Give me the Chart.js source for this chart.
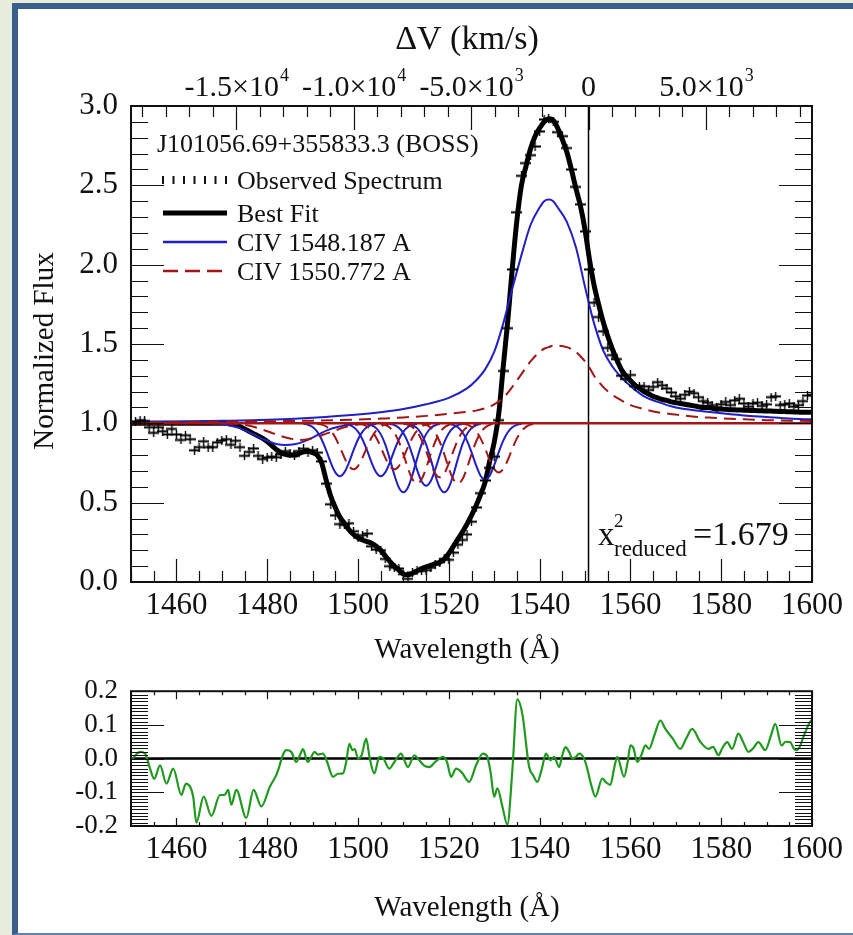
<!DOCTYPE html>
<html lang="en">
<head>
<meta charset="UTF-8">
<title>CIV BAL fit - J101056.69+355833.3</title>
<script src="https://cdn.jsdelivr.net/npm/chart.js"></script>
<style>
  html, body { margin: 0; padding: 0; width: 853px; height: 935px; overflow: hidden; background: #e6eedb; }
  .panel { position: absolute; left: 12px; top: 3px; width: 900px; height: 932px; box-sizing: border-box;
           background: #fff; border-left: 6px solid #3b5e8d; border-top: 6px solid #3b5e8d; border-bottom: 2px solid #5b85b5; }
  canvas { position: absolute; left: 0; }
  #spec { top: 0; }
  #resid { top: 670px; }
</style>
</head>
<body>
<div class="panel"></div>
<canvas id="spec" width="853" height="670"></canvas>
<canvas id="resid" width="853" height="265"></canvas>
<script>
const FONT = '"Liberation Serif", "Times New Roman", serif';
const REST_WAVE = 1550.772;        // CIV red line, zero of the velocity axis
const C_KMS = 299792.458;
const WAVE_MIN = 1450, WAVE_MAX = 1600;
const CONTINUUM = 1.0;
const TITLE_X = 467;

// tick labels
const waveLabels = [1460, 1480, 1500, 1520, 1540, 1560, 1580, 1600];
const velLabels = [-15000, -10000, -5000, 0, 5000];

// best fit and observed flux, 1 A sampling starting at WAVE_MIN
const fitFlux = [
  1.00, 1.00, 1.00, 1.00, 1.00, 1.00, 1.00, 1.00, 1.00, 1.00,
  1.00, 1.00, 1.00, 1.00, 1.00, 1.00, 1.00, 1.00, 1.00, 1.00,
  1.00, 1.00, 0.995, 0.99, 0.98, 0.965, 0.95, 0.935, 0.92, 0.905,
  0.885, 0.86, 0.835, 0.815, 0.805, 0.80, 0.80, 0.81, 0.82, 0.825,
  0.815, 0.80, 0.75, 0.64, 0.54, 0.47, 0.41, 0.37, 0.33, 0.30,
  0.28, 0.265, 0.255, 0.245, 0.225, 0.20, 0.165, 0.13, 0.10, 0.075,
  0.05, 0.045, 0.055, 0.07, 0.085, 0.095, 0.105, 0.115, 0.125, 0.145,
  0.18, 0.225, 0.27, 0.315, 0.365, 0.42, 0.48, 0.55, 0.63, 0.76,
  0.88, 1.06, 1.36, 1.65, 1.98, 2.28, 2.50, 2.62, 2.73, 2.81,
  2.86, 2.90, 2.92, 2.91, 2.86, 2.79, 2.71, 2.60, 2.48, 2.37,
  2.22, 2.03, 1.87, 1.75, 1.64, 1.55, 1.47, 1.40, 1.34, 1.30,
  1.27, 1.24, 1.22, 1.20, 1.185, 1.17, 1.16, 1.15, 1.145, 1.135,
  1.13, 1.125, 1.12, 1.115, 1.11, 1.105, 1.10, 1.10, 1.095, 1.09,
  1.09, 1.088, 1.086, 1.085, 1.084, 1.083, 1.082, 1.081, 1.080, 1.079,
  1.078, 1.077, 1.076, 1.075, 1.074, 1.073, 1.072, 1.071, 1.070, 1.070,
  1.070
];
const obsFlux = [
  1.00, 1.01, 1.02, 1.015, 0.975, 0.94, 0.975, 0.95, 0.93, 0.965,
  0.93, 0.895, 0.925, 0.90, 0.83, 0.85, 0.887, 0.85, 0.85, 0.88,
  0.892, 0.90, 0.865, 0.89, 0.85, 0.795, 0.82, 0.842, 0.795, 0.775,
  0.785, 0.79, 0.786, 0.805, 0.825, 0.81, 0.795, 0.825, 0.84, 0.815,
  0.83, 0.815, 0.76, 0.62, 0.49, 0.42, 0.365, 0.36, 0.37, 0.32,
  0.28, 0.295, 0.305, 0.225, 0.205, 0.20, 0.145, 0.10, 0.09, 0.085,
  0.05, 0.02, 0.06, 0.07, 0.07, 0.075, 0.09, 0.11, 0.125, 0.145,
  0.14, 0.185, 0.235, 0.265, 0.30, 0.38, 0.47, 0.56, 0.64, 0.72,
  0.79, 1.02, 1.33, 1.60, 1.97, 2.33, 2.56, 2.64, 2.69, 2.745,
  2.84, 2.915, 2.92, 2.90, 2.835, 2.81, 2.735, 2.60, 2.49, 2.38,
  2.21, 1.97, 1.76, 1.67, 1.58, 1.475, 1.43, 1.405, 1.30, 1.28,
  1.305, 1.235, 1.235, 1.233, 1.21, 1.23, 1.26, 1.24, 1.22, 1.195,
  1.17, 1.155, 1.18, 1.20, 1.19, 1.165, 1.14, 1.13, 1.115, 1.10,
  1.12, 1.135, 1.115, 1.145, 1.155, 1.125, 1.105, 1.125, 1.13, 1.11,
  1.12, 1.165, 1.17, 1.115, 1.12, 1.125, 1.105, 1.115, 1.14, 1.175,
  1.18
];

// broad CIV emission components
const emisWave = [1450, 1460, 1470, 1480, 1490, 1500, 1505, 1510, 1515, 1520,
  1524, 1526, 1528, 1530, 1532, 1534, 1536, 1538, 1540, 1541,
  1542, 1543, 1544, 1546, 1548, 1550, 1551, 1552, 1554, 1556,
  1558, 1560, 1563, 1566, 1570, 1575, 1578, 1585, 1590, 1595, 1600];
const blueEmis = [1.01, 1.012, 1.016, 1.022, 1.035, 1.055, 1.07, 1.09, 1.12, 1.16,
  1.22, 1.27, 1.34, 1.45, 1.63, 1.85, 2.06, 2.25, 2.36, 2.40,
  2.41, 2.40, 2.36, 2.27, 2.11, 1.86, 1.74, 1.63, 1.46, 1.36,
  1.29, 1.235, 1.17, 1.135, 1.10, 1.08, 1.07, 1.05, 1.04, 1.03, 1.025];
const redEmis = [1.005, 1.007, 1.01, 1.013, 1.017, 1.024, 1.03, 1.037, 1.047, 1.06,
  1.072, 1.08, 1.095, 1.12, 1.16, 1.23, 1.31, 1.39, 1.45, 1.47,
  1.48, 1.49, 1.49, 1.48, 1.45, 1.39, 1.35, 1.30, 1.23, 1.18,
  1.145, 1.115, 1.09, 1.07, 1.055, 1.04, 1.035, 1.025, 1.02, 1.017, 1.015];

// absorption troughs: first wavelength, sampling step, flux
const blueTroughStart = [1468, 1488, 1497, 1502, 1507, 1511, 1520];
const blueTroughStep = [2, 1, 1, 1, 1, 1, 1];
const blueTroughs = [
  [1.000, 0.995, 0.985, 0.970, 0.945, 0.915, 0.890, 0.870, 0.863, 0.868, 0.885, 0.910, 0.940, 0.965, 0.980, 0.993, 1.000],
  [0.997, 0.991, 0.977, 0.948, 0.898, 0.829, 0.752, 0.691, 0.667, 0.691, 0.752, 0.829, 0.898, 0.948, 0.977, 0.991, 0.997],
  [0.997, 0.991, 0.977, 0.948, 0.898, 0.829, 0.752, 0.691, 0.667, 0.691, 0.752, 0.829, 0.898, 0.948, 0.977, 0.991, 0.997],
  [0.996, 0.988, 0.970, 0.932, 0.867, 0.776, 0.676, 0.596, 0.565, 0.596, 0.676, 0.776, 0.867, 0.932, 0.970, 0.988, 0.996],
  [0.996, 0.989, 0.972, 0.938, 0.880, 0.798, 0.708, 0.635, 0.607, 0.635, 0.708, 0.798, 0.880, 0.938, 0.972, 0.989, 0.996],
  [0.996, 0.988, 0.970, 0.932, 0.867, 0.776, 0.676, 0.596, 0.565, 0.596, 0.676, 0.776, 0.867, 0.932, 0.970, 0.988, 0.996],
  [0.997, 0.990, 0.975, 0.944, 0.891, 0.818, 0.736, 0.670, 0.645, 0.670, 0.736, 0.818, 0.891, 0.944, 0.975, 0.990, 0.997]
];
const redTroughStart = [1471, 1491, 1500, 1505, 1510, 1514, 1523];
const redTroughStep = [2, 1, 1, 1, 1, 1, 1];
const redTroughs = [
  [1.000, 0.997, 0.990, 0.978, 0.960, 0.940, 0.920, 0.905, 0.895, 0.900, 0.915, 0.935, 0.955, 0.975, 0.988, 0.996, 1.000],
  [0.997, 0.992, 0.980, 0.954, 0.911, 0.851, 0.784, 0.731, 0.710, 0.731, 0.784, 0.851, 0.911, 0.954, 0.980, 0.992, 0.997],
  [0.997, 0.992, 0.980, 0.954, 0.911, 0.851, 0.784, 0.731, 0.710, 0.731, 0.784, 0.851, 0.911, 0.954, 0.980, 0.992, 0.997],
  [0.997, 0.990, 0.973, 0.940, 0.884, 0.805, 0.717, 0.647, 0.620, 0.647, 0.717, 0.805, 0.884, 0.940, 0.973, 0.990, 0.997],
  [0.997, 0.991, 0.976, 0.947, 0.896, 0.825, 0.747, 0.684, 0.660, 0.684, 0.747, 0.825, 0.896, 0.947, 0.976, 0.991, 0.997],
  [0.997, 0.990, 0.973, 0.940, 0.884, 0.805, 0.717, 0.647, 0.620, 0.647, 0.717, 0.805, 0.884, 0.940, 0.973, 0.990, 0.997],
  [0.997, 0.992, 0.978, 0.951, 0.905, 0.841, 0.769, 0.712, 0.690, 0.712, 0.769, 0.841, 0.905, 0.951, 0.978, 0.992, 0.997]
];

// fit residuals
const residWave = [1450.3, 1452.0, 1453.1, 1454.2, 1455.1, 1456.4, 1457.8, 1459.3, 1461.1, 1462.1,
  1463.7, 1464.4, 1466.0, 1467.7, 1469.6, 1470.6, 1471.4, 1472.1, 1473.2, 1475.4,
  1477.0, 1478.7, 1480.6, 1482.0, 1484.2, 1485.3, 1486.4, 1487.2, 1487.9, 1488.9,
  1489.7, 1490.4, 1491.2, 1492.3, 1493.2, 1494.5, 1495.6, 1496.7, 1497.4, 1498.1,
  1498.8, 1499.3, 1500.0, 1500.8, 1501.8, 1502.6, 1503.6, 1504.7, 1505.6, 1506.9,
  1508.0, 1509.5, 1510.2, 1511.0, 1512.4, 1513.5, 1514.5, 1515.7, 1517.0, 1518.7,
  1519.6, 1520.5, 1521.6, 1522.8, 1524.5, 1526.0, 1527.5, 1528.4, 1529.2, 1530.0,
  1530.7, 1531.8, 1532.9, 1534.0, 1535.1, 1536.2, 1537.7, 1538.6, 1539.5, 1540.5,
  1541.4, 1542.4, 1543.2, 1544.3, 1545.0, 1545.7, 1546.5, 1547.2, 1548.0, 1548.7,
  1549.8, 1550.5, 1551.4, 1552.3, 1553.8, 1554.6, 1555.6, 1556.4, 1557.1, 1558.6,
  1559.4, 1560.0, 1560.7, 1561.5, 1562.4, 1563.3, 1564.1, 1565.3, 1566.6, 1567.7,
  1569.3, 1571.0, 1572.3, 1573.6, 1575.4, 1577.2, 1578.2, 1579.4, 1580.2, 1581.3,
  1582.4, 1583.8, 1584.8, 1586.0, 1587.0, 1588.2, 1589.7, 1591.0, 1591.9, 1593.3,
  1594.2, 1595.2, 1596.0, 1596.6, 1597.3, 1598.1, 1599.5, 1600.0];
const residValue = [0.0, 0.02, 0.015, -0.03, -0.06, -0.02, -0.074, -0.03, -0.108, -0.074,
  -0.113, -0.19, -0.113, -0.17, -0.108, -0.108, -0.093, -0.137, -0.093, -0.176,
  -0.093, -0.142, -0.083, -0.049, 0.025, 0.02, -0.01, 0.01, 0.028, -0.01,
  0.005, 0.02, 0.012, 0.015, -0.01, -0.054, -0.045, -0.044, -0.01, 0.044,
  0.025, 0.028, 0.0, 0.01, 0.059, 0.0, -0.044, 0.005, 0.0, -0.03,
  -0.01, 0.015, -0.005, -0.025, 0.01, -0.005, -0.02, -0.025, -0.01, 0.005,
  -0.01, -0.054, -0.03, -0.04, -0.069, -0.02, 0.015, 0.008, -0.04, -0.113,
  -0.088, -0.142, -0.196, -0.034, 0.176, 0.132, -0.025, -0.05, -0.069, -0.03,
  0.015, -0.005, 0.005, -0.025, 0.01, 0.034, 0.02, 0.0, 0.005, 0.015,
  0.0, -0.03, -0.08, -0.113, -0.059, -0.07, -0.078, -0.03, 0.005, -0.054,
  -0.01, 0.039, 0.03, -0.01, 0.01, 0.039, 0.029, 0.07, 0.113, 0.088,
  0.06, 0.029, 0.06, 0.088, 0.05, 0.029, 0.035, 0.01, 0.03, 0.049,
  0.029, 0.074, 0.05, 0.02, 0.03, 0.049, 0.025, 0.07, 0.103, 0.039,
  0.05, 0.049, 0.03, 0.025, 0.035, 0.064, 0.108, 0.115];

const BLUE = '#1f1fc4';
const RED = '#a11616';
const GREEN = '#1f9a1f';

// ---- helpers ----
const grid1A = arr => arr.map((y, i) => ({ x: WAVE_MIN + i, y }));
const pairs = (xs, ys) => xs.map((x, i) => ({ x, y: ys[i] }));
const stepped = (start, step, ys) => ys.map((y, i) => ({ x: start + i * step, y }));

function lineSet(data, color, width, dash) {
  return {
    data, borderColor: color, borderWidth: width, borderDash: dash || [],
    pointRadius: 0, showLine: true, fill: false, cubicInterpolationMode: 'monotone',
    xAxisID: 'x', yAxisID: 'y'
  };
}

// "+" marker used for the observed pixels
const plus = document.createElement('canvas');
plus.width = 11; plus.height = 9;
(function () {
  const p = plus.getContext('2d');
  p.fillStyle = '#000';
  p.fillRect(0, 3.5, 11, 2);
  p.fillRect(4.8, 0, 1.4, 9);
})();

// inward ticks on all four sides plus the frame
function frameTicks(marks) {
  return {
    id: 'frameTicks',
    afterDatasetsDraw(chart) {
      const { ctx, chartArea: a } = chart;
      ctx.save();
      ctx.strokeStyle = '#111';
      ctx.lineWidth = 1.2;
      marks.forEach(m => {
        const s = chart.scales[m.scale];
        const n0 = Math.ceil(s.min / m.step - 1e-9), n1 = Math.floor(s.max / m.step + 1e-9);
        const every = Math.round(m.major / m.step);
        ctx.beginPath();
        for (let n = n0; n <= n1; n++) {
          const p = Math.round(s.getPixelForValue(n * m.step)) + 0.5;
          const len = (n % every === 0) ? m.long : m.short;
          m.sides.forEach(side => {
            if (side === 'bottom') { ctx.moveTo(p, a.bottom); ctx.lineTo(p, a.bottom - len); }
            if (side === 'top') { ctx.moveTo(p, a.top); ctx.lineTo(p, a.top + len); }
            if (side === 'left') { ctx.moveTo(a.left, p); ctx.lineTo(a.left + len, p); }
            if (side === 'right') { ctx.moveTo(a.right, p); ctx.lineTo(a.right - len, p); }
          });
        }
        ctx.stroke();
      });
      ctx.lineWidth = 2;
      ctx.strokeRect(a.left, a.top, a.right - a.left, a.bottom - a.top);
      ctx.restore();
    }
  };
}

function put(ctx, str, x, y, size, align, baseline) {
  ctx.font = size + 'px ' + FONT;
  ctx.textAlign = align || 'left';
  ctx.textBaseline = baseline || 'alphabetic';
  ctx.fillText(str, x, y);
}

function xAxis(h) {
  return {
    type: 'linear', min: WAVE_MIN, max: WAVE_MAX,
    grid: { display: false }, border: { display: false },
    ticks: { font: { family: FONT, size: 31 }, color: '#111', padding: -3, maxRotation: 0, autoSkip: false,
             callback: v => String(v) },
    afterBuildTicks: s => { s.ticks = waveLabels.map(v => ({ value: v })); },
    afterFit: s => { s.height = h; }
  };
}

// ---- spectrum panel ----
const vMin = C_KMS * (WAVE_MIN - REST_WAVE) / REST_WAVE;
const vMax = C_KMS * (WAVE_MAX - REST_WAVE) / REST_WAVE;

const specSets = [];
specSets.push({
  data: grid1A(obsFlux), showLine: false, pointStyle: plus, pointRadius: 5,
  borderColor: '#000', backgroundColor: '#000', xAxisID: 'x', yAxisID: 'y'
});
specSets.push(lineSet([{ x: WAVE_MIN, y: CONTINUUM }, { x: WAVE_MAX, y: CONTINUUM }], RED, 2.5));
specSets.push(lineSet(pairs(emisWave, redEmis), RED, 2, [12, 7]));
redTroughs.forEach((t, i) => specSets.push(lineSet(stepped(redTroughStart[i], redTroughStep[i], t), RED, 2, [12, 7])));
specSets.push(lineSet(pairs(emisWave, blueEmis), BLUE, 2));
blueTroughs.forEach((t, i) => specSets.push(lineSet(stepped(blueTroughStart[i], blueTroughStep[i], t), BLUE, 2)));
specSets.push(lineSet(grid1A(fitFlux), '#000', 5));
specSets.push(lineSet([{ x: REST_WAVE, y: 0 }, { x: REST_WAVE, y: 3 }], '#000', 1.5));

const specText = {
  id: 'specText',
  afterDraw(chart) {
    const ctx = chart.ctx, vs = chart.scales.v;
    ctx.save();
    ctx.fillStyle = '#111';
    put(ctx, '\u0394V (km/s)', TITLE_X, 40, 34, 'center', 'middle');
    put(ctx, 'Wavelength (\u00c5)', TITLE_X, 650, 29, 'center', 'middle');
    ctx.save();
    ctx.translate(45, 351);
    ctx.rotate(-Math.PI / 2);
    put(ctx, 'Normalized Flux', 0, 0, 29, 'center', 'middle');
    ctx.restore();

    // velocity tick labels with powers of ten
    velLabels.forEach(v => {
      const px = vs.getPixelForValue(v);
      if (v === 0) { put(ctx, '0', px, 96, 30, 'center'); return; }
      const e = Math.floor(Math.log10(Math.abs(v)));
      const base = (v / Math.pow(10, e)).toFixed(1) + '\u00d710';
      ctx.font = '30px ' + FONT;
      const w1 = ctx.measureText(base).width;
      ctx.font = '18px ' + FONT;
      const w2 = ctx.measureText(String(e)).width;
      const x0 = px - (w1 + w2) / 2;
      put(ctx, base, x0, 96, 30);
      put(ctx, String(e), x0 + w1 + 1, 81, 18);
    });

    // legend
    put(ctx, 'J101056.69+355833.3 (BOSS)', 157, 152, 26);
    const labels = ['Observed Spectrum', 'Best Fit', 'CIV 1548.187 A', 'CIV 1550.772 A'];
    const rowY = [180, 213, 242, 271];
    labels.forEach((t, i) => put(ctx, t, 237, rowY[i] + 9, 26));
    for (let k = 0; k < 7; k++) ctx.fillRect(162 + k * 10.5, 176, 2, 8);
    const sample = (y, color, w, dash) => {
      ctx.beginPath();
      ctx.strokeStyle = color; ctx.lineWidth = w; ctx.setLineDash(dash || []);
      ctx.moveTo(163, y); ctx.lineTo(227, y); ctx.stroke();
    };
    sample(rowY[1], '#000', 5);
    sample(rowY[2], BLUE, 2.5);
    sample(rowY[3], RED, 2.5, [15, 7]);
    ctx.setLineDash([]);

    // reduced chi-square
    put(ctx, 'x', 598, 545, 33);
    put(ctx, '2', 614, 527, 19);
    put(ctx, 'reduced', 614, 556, 23);
    put(ctx, '=1.679', 693, 545, 34);
    ctx.restore();
  }
};

new Chart(document.getElementById('spec'), {
  type: 'line',
  data: { datasets: specSets },
  options: {
    responsive: false, animation: false, devicePixelRatio: 1, events: [],
    layout: { padding: { top: 106, right: 41, left: 0, bottom: 0 } },
    plugins: { legend: { display: false }, tooltip: { enabled: false } },
    scales: {
      x: xAxis(88),
      y: {
        min: 0, max: 3, grid: { display: false }, border: { display: false },
        ticks: { stepSize: 0.5, font: { family: FONT, size: 31 }, color: '#111', padding: 5, autoSkip: false,
                 callback: v => v.toFixed(1) },
        afterFit: s => { s.width = 131; }
      },
      v: { type: 'linear', position: 'top', display: false, min: vMin, max: vMax }
    }
  },
  plugins: [frameTicks([
    { scale: 'x', step: 5, major: 20, long: 23, short: 11, sides: ['bottom'] },
    { scale: 'v', step: 1000, major: 5000, long: 24, short: 11, sides: ['top'] },
    { scale: 'y', step: 0.1, major: 0.5, long: 33, short: 17, sides: ['left', 'right'] }
  ]), specText]
});

// ---- residual panel ----
const residText = {
  id: 'residText',
  afterDraw(chart) {
    chart.ctx.save();
    chart.ctx.fillStyle = '#111';
    put(chart.ctx, 'Wavelength (\u00c5)', TITLE_X, 238, 29, 'center', 'middle');
    chart.ctx.restore();
  }
};

new Chart(document.getElementById('resid'), {
  type: 'line',
  data: {
    datasets: [
      lineSet(pairs(residWave, residValue), GREEN, 2.2),
      lineSet([{ x: WAVE_MIN, y: 0 }, { x: WAVE_MAX, y: 0 }], '#000', 2.5)
    ]
  },
  options: {
    responsive: false, animation: false, devicePixelRatio: 1, events: [],
    layout: { padding: { top: 20, right: 41, left: 0, bottom: 0 } },
    plugins: { legend: { display: false }, tooltip: { enabled: false } },
    scales: {
      x: xAxis(109),
      y: {
        min: -0.2, max: 0.2, grid: { display: false }, border: { display: false },
        ticks: { stepSize: 0.1, font: { family: FONT, size: 27 }, color: '#111', padding: 5, autoSkip: false,
                 callback: v => (Math.abs(v) < 1e-9 ? 0 : v).toFixed(1) },
        afterFit: s => { s.width = 131; }
      }
    }
  },
  plugins: [frameTicks([
    { scale: 'x', step: 5, major: 20, long: 8, short: 4, sides: ['bottom', 'top'] },
    { scale: 'y', step: 0.01, major: 0.1, long: 33, short: 17, sides: ['left', 'right'] }
  ]), residText]
});
</script>
</body>
</html>
